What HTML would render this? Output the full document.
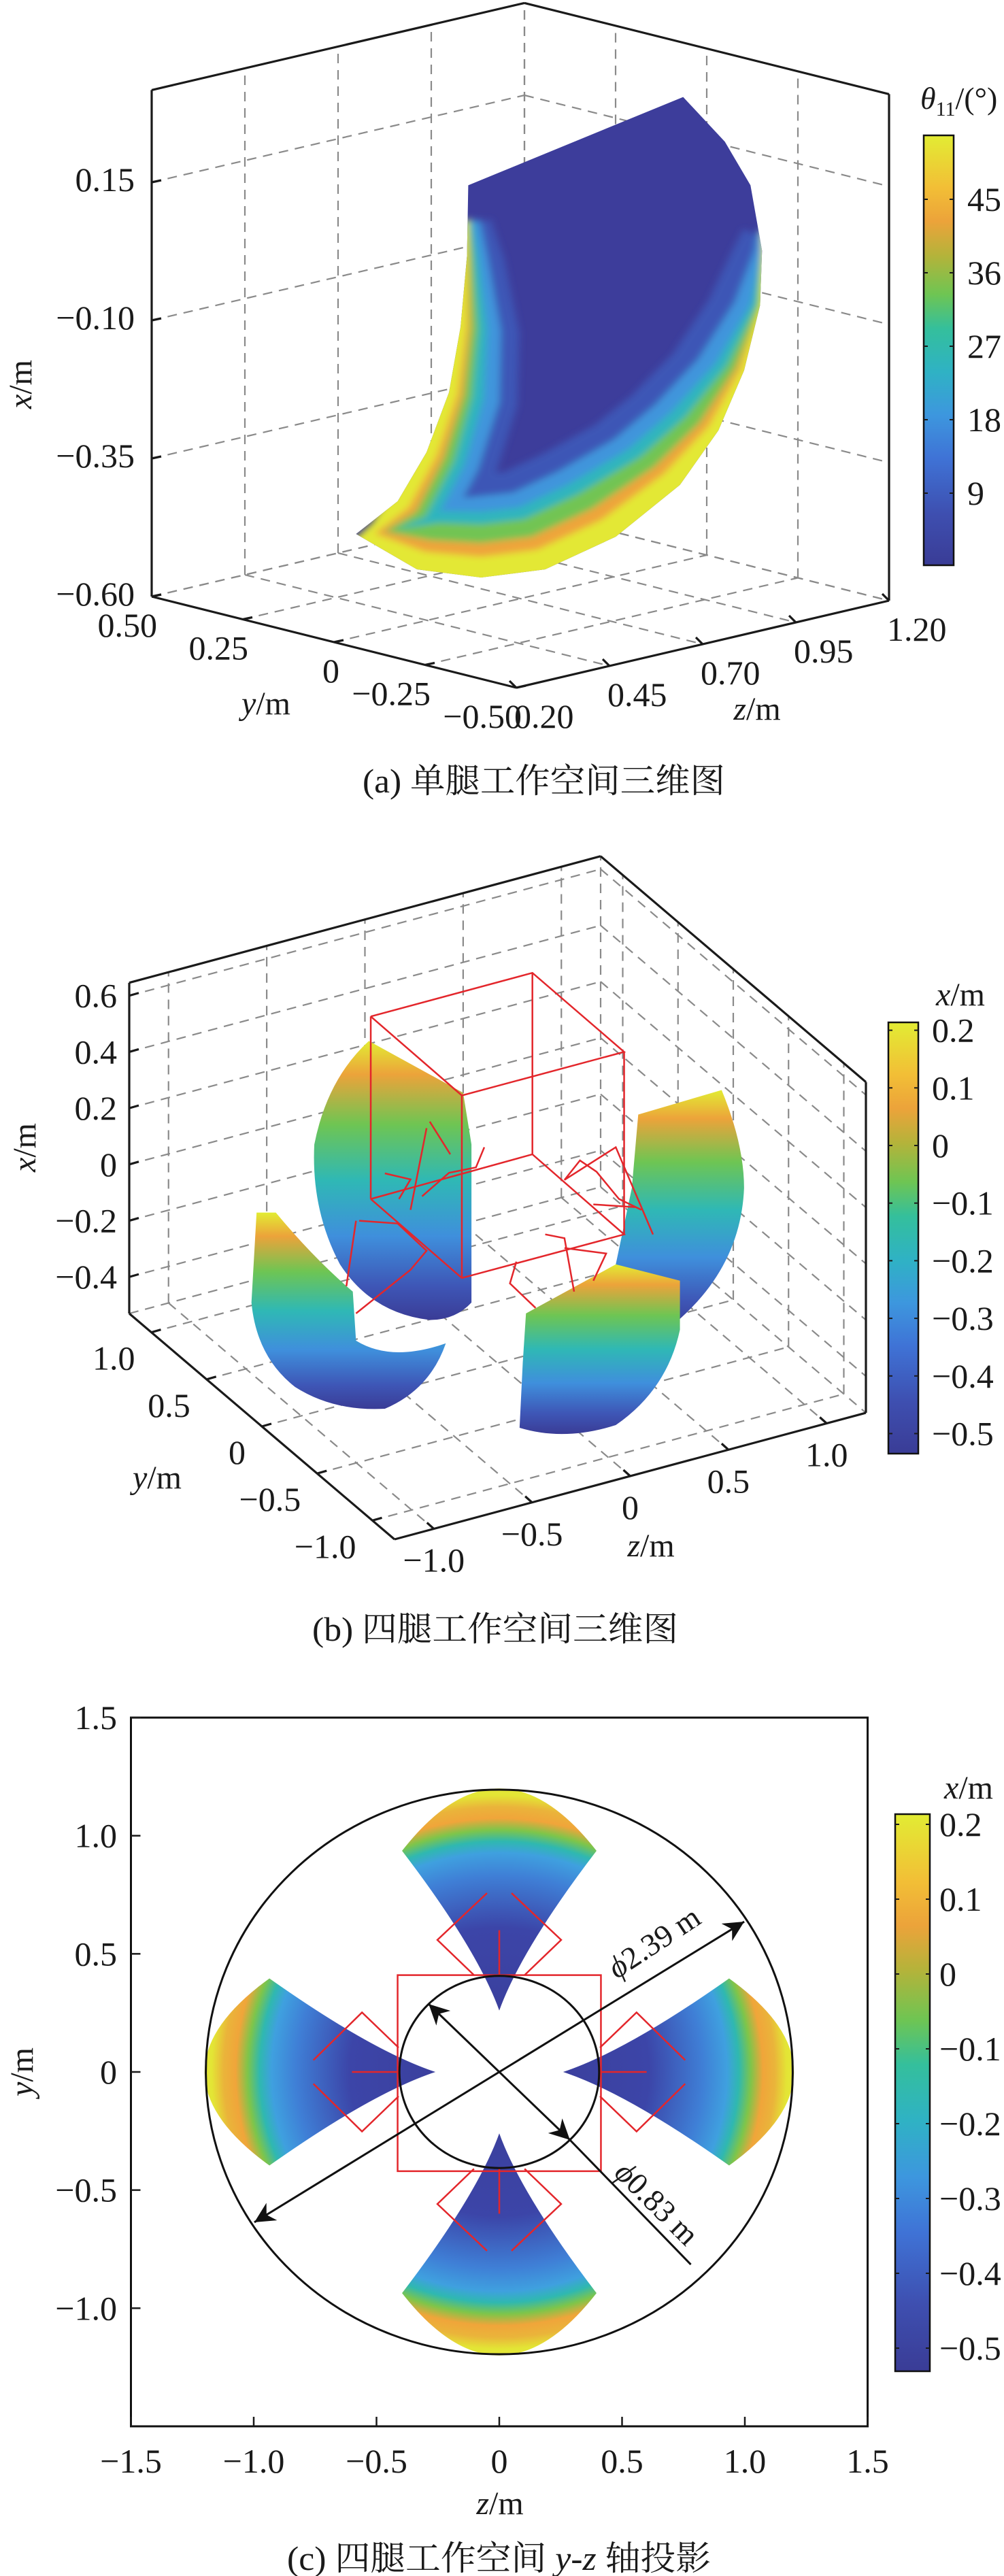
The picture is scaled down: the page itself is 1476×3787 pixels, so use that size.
<!DOCTYPE html>
<html><head><meta charset="utf-8"><style>
html,body{margin:0;padding:0;background:#fff}
svg{display:block}
text{font-family:"Liberation Serif","Noto Serif CJK SC",serif;fill:#1a1a1a}
</style></head><body>
<svg id="fig" xmlns="http://www.w3.org/2000/svg" width="1476" height="3787" viewBox="0 0 1476 3787">
<defs>
  <linearGradient id="parula" x1="0" y1="1" x2="0" y2="0">
    <stop offset="0" stop-color="#3a3c96"/><stop offset="0.12" stop-color="#3e4fb0"/>
    <stop offset="0.25" stop-color="#3f73d6"/><stop offset="0.35" stop-color="#3d97de"/>
    <stop offset="0.45" stop-color="#2fb2c4"/><stop offset="0.55" stop-color="#34bf9c"/>
    <stop offset="0.63" stop-color="#6ec553"/><stop offset="0.72" stop-color="#b4b33a"/>
    <stop offset="0.8" stop-color="#eca33a"/><stop offset="0.88" stop-color="#f2bf36"/>
    <stop offset="1" stop-color="#e2ec33"/>
  </linearGradient>
  <linearGradient id="gradB" x1="0" y1="0" x2="0" y2="1">
    <stop offset="0" stop-color="#e2ec33"/><stop offset="0.12" stop-color="#eca33a"/>
    <stop offset="0.3" stop-color="#6ec553"/><stop offset="0.5" stop-color="#2fb8b5"/>
    <stop offset="0.7" stop-color="#3f8fdc"/><stop offset="0.88" stop-color="#3e56b6"/>
    <stop offset="1" stop-color="#3a3c96"/>
  </linearGradient>
  <radialGradient id="gradC" gradientUnits="userSpaceOnUse" cx="0" cy="0" r="1.22">
    <stop offset="0" stop-color="#3a3c96"/><stop offset="0.5" stop-color="#3c45a8"/>
    <stop offset="0.68" stop-color="#3f7fd6"/><stop offset="0.76" stop-color="#3fa0df"/>
    <stop offset="0.8" stop-color="#2fb8b0"/><stop offset="0.84" stop-color="#7ec54a"/>
    <stop offset="0.88" stop-color="#f0a53a"/><stop offset="0.92" stop-color="#eab43a"/>
    <stop offset="0.96" stop-color="#e3e535"/><stop offset="1" stop-color="#e4e93a"/>
  </radialGradient>
  <clipPath id="clipA"><path d="M730,340 L1065,178 L1130,260 L1170,340 L1188,460 L1185,560 L1160,680 L1120,790 L1060,890 L960,985 L850,1045 L750,1060 L650,1045 L555,980 L620,920 L665,830 L700,720 L718,600 L728,470 Z"/></clipPath>
  <filter id="soft" x="-10%" y="-10%" width="120%" height="120%"><feGaussianBlur stdDeviation="6"/></filter>
  <marker id="arrow" viewBox="0 0 10 10" refX="10" refY="5" markerWidth="30" markerHeight="30" markerUnits="userSpaceOnUse" orient="auto-start-reverse">
    <path d="M0,0 L10,5 L0,10 L3,5 Z" fill="#111"/>
  </marker>
</defs>

<!-- ============ Panel (a) ============ -->
<g id="panelA">
  <g id="gridA"></g>
  <g transform="scale(0.943,0.801)">
    <path fill="#3d3d9b" d="M730,340 L1065,178 L1130,260 L1170,340 L1188,460 L1185,560 L1160,680 L1120,790 L1060,890 L960,985 L850,1045 L750,1060 L650,1045 L555,980 L620,920 L665,830 L700,720 L718,600 L728,470 Z"/>
    <g clip-path="url(#clipA)">
      <g id="bandsA" filter="url(#soft)"></g>
    </g>
  </g>
  <g id="frameA"></g>
  <g id="cbA">
    <rect x="1358" y="199" width="44" height="632" fill="url(#parula)" stroke="#111" stroke-width="2.5"/>
  </g>
  <text x="1353" y="160" font-size="46"><tspan font-style="italic">θ</tspan><tspan font-size="30" dy="10">11</tspan><tspan dy="-10">/(°)</tspan></text>
  <text transform="translate(46,565) rotate(-90)" text-anchor="middle" font-size="48"><tspan font-style="italic">x</tspan>/m</text>
  <text x="391" y="1050" text-anchor="middle" font-size="48"><tspan font-style="italic">y</tspan>/m</text>
  <text x="1113" y="1058" text-anchor="middle" font-size="48"><tspan font-style="italic">z</tspan>/m</text>
  <text x="533" y="1165" font-size="50" textLength="533" lengthAdjust="spacingAndGlyphs">(a) 单腿工作空间三维图</text>
</g>

<!-- ============ Panel (b) ============ -->
<g id="panelB">
  <g id="gridB"></g>
  <g transform="translate(0,1250) scale(0.943,0.801)">
    <path fill="url(#gradB)" d="M995,485 L1125,440 Q1160,540 1160,620 Q1155,760 1060,860 L990,880 L960,760 L985,620 Z"/>
    <path fill="url(#gradB)" d="M575,350 L722,445 L735,540 L735,830 Q710,862 670,862 Q580,850 530,760 Q485,660 490,540 Q510,420 575,350 Z"/>
    <path fill="url(#gradB)" d="M400,665 L430,665 Q490,750 550,810 L555,900 Q610,940 695,905 Q670,990 600,1025 Q520,1030 460,985 Q400,930 392,830 Z"/>
    <path fill="url(#gradB)" d="M820,850 L960,760 L1060,790 L1060,880 Q1040,990 960,1055 Q880,1085 810,1060 L815,940 Z"/>
    <g id="redB" fill="none" stroke="#e3262b" stroke-width="2.5"></g>
  </g>
  <g id="frameB"></g>
  <g id="cbB">
    <rect x="1306" y="1503" width="44" height="634" fill="url(#parula)" stroke="#111" stroke-width="2.5"/>
  </g>
  <text x="1412" y="1478" text-anchor="middle" font-size="48"><tspan font-style="italic">x</tspan>/m</text>
  <text transform="translate(52,1687) rotate(-90)" text-anchor="middle" font-size="48"><tspan font-style="italic">x</tspan>/m</text>
  <text x="231" y="2188" text-anchor="middle" font-size="48"><tspan font-style="italic">y</tspan>/m</text>
  <text x="957" y="2288" text-anchor="middle" font-size="48"><tspan font-style="italic">z</tspan>/m</text>
  <text x="459" y="2412" font-size="50" textLength="538" lengthAdjust="spacingAndGlyphs">(b) 四腿工作空间三维图</text>
</g>

<!-- ============ Panel (c) ============ -->
<g id="panelC">
  <g id="dataC"></g>
  <g id="axesC"></g>
  <text transform="translate(970,2868) rotate(-33.5)" text-anchor="middle" font-size="46"><tspan font-style="italic">ϕ</tspan>2.39 m</text>
  <text transform="translate(955,3250) rotate(45)" text-anchor="middle" font-size="46"><tspan font-style="italic">ϕ</tspan>0.83 m</text>
  <g id="cbC">
    <rect x="1316" y="2667" width="51" height="819" fill="url(#parula)" stroke="#111" stroke-width="2.5"/>
  </g>
  <text x="1424" y="2644" text-anchor="middle" font-size="48"><tspan font-style="italic">x</tspan>/m</text>
  <text transform="translate(48,3046) rotate(-90)" text-anchor="middle" font-size="48"><tspan font-style="italic">y</tspan>/m</text>
  <text x="735" y="3696" text-anchor="middle" font-size="48"><tspan font-style="italic">z</tspan>/m</text>
  <text x="422" y="3778" font-size="50" textLength="623" lengthAdjust="spacingAndGlyphs">(c) 四腿工作空间 <tspan font-style="italic">y</tspan>-<tspan font-style="italic">z</tspan> 轴投影</text>
</g>
</svg>
<script>
const NS = "http://www.w3.org/2000/svg";
function mk(tag, attrs, parent){const e=document.createElementNS(NS,tag);for(const k in attrs)e.setAttribute(k,attrs[k]);parent.appendChild(e);return e;}

/* ---------- data arrays ---------- */
const aXTicks = [-0.60, -0.35, -0.10, 0.15];
const aXLabels = ["−0.60","−0.35","−0.10","0.15"];
const aYTicks = [0.50, 0.25, 0, -0.25, -0.50];
const aYLabels = ["0.50","0.25","0","−0.25","−0.50"];
const aZTicks = [0.20, 0.45, 0.70, 0.95, 1.20];
const aZLabels = ["0.20","0.45","0.70","0.95","1.20"];
const aCbTicks = [9, 18, 27, 36, 45];
const aCbLabels = ["9","18","27","36","45"];

const bXTicks = [-0.4, -0.2, 0, 0.2, 0.4, 0.6];
const bXLabels = ["−0.4","−0.2","0","0.2","0.4","0.6"];
const bYTicks = [1.0, 0.5, 0, -0.5, -1.0];
const bYLabels = ["1.0","0.5","0","−0.5","−1.0"];
const bZTicks = [-1.0, -0.5, 0, 0.5, 1.0];
const bZLabels = ["−1.0","−0.5","0","0.5","1.0"];
const bCbTicks = [0.2, 0.1, 0, -0.1, -0.2, -0.3, -0.4, -0.5];
const bCbLabels = ["0.2","0.1","0","−0.1","−0.2","−0.3","−0.4","−0.5"];

const cZTicks = [-1.5, -1.0, -0.5, 0, 0.5, 1.0, 1.5];
const cZLabels = ["−1.5","−1.0","−0.5","0","0.5","1.0","1.5"];
const cYTicks = [1.5, 1.0, 0.5, 0, -0.5, -1.0];
const cYLabels = ["1.5","1.0","0.5","0","−0.5","−1.0"];
const cCbTicks = [0.2, 0.1, 0, -0.1, -0.2, -0.3, -0.4, -0.5];
const cCbLabels = ["0.2","0.1","0","−0.1","−0.2","−0.3","−0.4","−0.5"];
const cOuterDiameter = [2.39];
const cInnerDiameter = [0.83];
const cLegAngles = [90, 180, 0, 270];

/* ---------- Panel (a) rim colour bands (surface shading) ---------- */
const rimPts = [[1188,420],[1188,460],[1185,560],[1160,680],[1120,790],[1060,890],[960,985],[850,1045],[750,1060],[650,1045],[560,985],[620,920],[665,830],[700,720],[718,600],[728,470],[730,400]];
const rimW = [[0,0,0,0,5,25],[0,0,0,0,10,40],[0,0,5,12,35,70],[5,12,25,40,65,100],[15,28,50,70,95,130],[28,45,70,90,115,150],[33,55,85,105,130,165],[33,55,85,105,130,165],[33,55,85,105,130,165],[30,50,80,100,120,150],[22,35,50,65,85,105],[18,30,45,60,80,105],[15,25,40,55,75,100],[12,20,32,48,70,95],[8,14,24,36,55,80],[0,3,8,15,28,50],[0,0,0,5,15,30]];
const bandColors = ["#e3e836","#eea43a","#72c452","#2fb5bd","#3f95dc","#3e56b6"];
const bandsA=document.getElementById('bandsA');
for(let lvl=5; lvl>=0; lvl--){
  const inner=[];
  rimPts.forEach((p,i)=>{
    const a=rimPts[Math.max(0,i-1)], b=rimPts[Math.min(rimPts.length-1,i+1)];
    let tx=b[0]-a[0], ty=b[1]-a[1]; const L=Math.hypot(tx,ty)||1; tx/=L; ty/=L;
    const w=rimW[i][lvl]*1.15;
    inner.push([p[0]-ty*w, p[1]+tx*w]);
  });
  const outer=rimPts.map(p=>[p[0]+(p[0]>900?40:-40),p[1]+40]);
  const poly=outer.concat(inner.slice().reverse());
  const bp=mk('polygon',{points:poly.map(q=>q.join(',')).join(' '),fill:bandColors[lvl]},bandsA);
  
  
}

/* ---------- Panel (a) ---------- */
const aXmin=-0.6, aXmax=0.317;
function PA(x,y,z){return [223+(z-0.2)*548+(0.5-y)*536, 877-(z-0.2)*128+(0.5-y)*134-(x-aXmin)*812];}
const gA=document.getElementById('gridA'), fA=document.getElementById('frameA');
function seg(parent,p,q,dashed,name,w){
  const l=mk('line',{x1:p[0],y1:p[1],x2:q[0],y2:q[1],stroke:dashed?'#8a8a8a':'#1a1a1a','stroke-width':w||(dashed?2.2:3.2),'stroke-dasharray':dashed?'14 10':'none'},parent);
  
  
  return l;
}
aXTicks.forEach(x=>{ seg(gA,PA(x,0.5,0.2),PA(x,0.5,1.2),true,'grid-a-left-wall'); seg(gA,PA(x,0.5,1.2),PA(x,-0.5,1.2),true,'grid-a-right-wall'); });
aZTicks.forEach(z=>{ seg(gA,PA(aXmin,0.5,z),PA(aXmax,0.5,z),true,'grid-a-left-wall-vertical'); seg(gA,PA(aXmin,0.5,z),PA(aXmin,-0.5,z),true,'grid-a-floor'); });
aYTicks.forEach(y=>{ seg(gA,PA(aXmin,y,1.2),PA(aXmax,y,1.2),true,'grid-a-right-wall-vertical'); seg(gA,PA(aXmin,y,0.2),PA(aXmin,y,1.2),true,'grid-a-floor'); });
seg(fA,PA(aXmax,0.5,0.2),PA(aXmax,0.5,1.2),false,'frame-a-top');
seg(fA,PA(aXmax,0.5,1.2),PA(aXmax,-0.5,1.2),false,'frame-a-top');
seg(fA,PA(aXmin,0.5,0.2),PA(aXmax,0.5,0.2),false,'frame-a-left');
seg(fA,PA(aXmin,-0.5,1.2),PA(aXmax,-0.5,1.2),false,'frame-a-right');
seg(fA,PA(aXmin,0.5,0.2),PA(aXmin,-0.5,0.2),false,'frame-a-y-axis');
seg(fA,PA(aXmin,-0.5,0.2),PA(aXmin,-0.5,1.2),false,'frame-a-z-axis');
aXTicks.forEach((x,i)=>{const p=PA(x,0.5,0.2);
  seg(fA,p,[p[0]+14,p[1]-3],false,'x-tick-a');
  const t=mk('text',{x:p[0]-25,y:p[1]-4,'text-anchor':'end','dominant-baseline':'central','font-size':50},fA);t.textContent=aXLabels[i];
  
  });
aYTicks.forEach((y,i)=>{const p=PA(aXmin,y,0.2);
  seg(fA,p,[p[0]+14,p[1]-3],false,'y-tick-a');
  const t=mk('text',{x:p[0]+8,y:p[1]+42,'text-anchor':'end','dominant-baseline':'central','font-size':50},fA);t.textContent=aYLabels[i];
  
  });
aZTicks.forEach((z,i)=>{const p=PA(aXmin,-0.5,z);
  seg(fA,p,[p[0]-10,p[1]-10],false,'z-tick-a');
  const t=mk('text',{x:p[0]-3,y:p[1]+42,'text-anchor':'start','dominant-baseline':'central','font-size':50},fA);t.textContent=aZLabels[i];
  
  });
const cbA=document.getElementById('cbA');
aCbTicks.forEach((v,i)=>{const y=833-v*12;
  seg(cbA,[1358,y],[1364,y],false,'colorbar-a-tick',2); seg(cbA,[1396,y],[1402,y],false,'colorbar-a-tick',2);
  const t=mk('text',{x:1422,y:y,'dominant-baseline':'central','font-size':50},cbA);t.textContent=aCbLabels[i];
  
  });

/* ---------- Panel (b) ---------- */
const bXmin=-0.53, bXmax=0.646;
function PB(x,y,z){return [580+(z+1.2)/2.4*693-(y+1.2)/2.4*390, 2263-(z+1.2)/2.4*186-(y+1.2)/2.4*332-(x-bXmin)*413.5];}
const gB=document.getElementById('gridB'), fB=document.getElementById('frameB');
bXTicks.forEach(x=>{ seg(gB,PB(x,1.2,-1.2),PB(x,1.2,1.2),true,'grid-b-left-wall'); seg(gB,PB(x,1.2,1.2),PB(x,-1.2,1.2),true,'grid-b-right-wall'); });
bZTicks.forEach(z=>{ seg(gB,PB(bXmin,1.2,z),PB(bXmax,1.2,z),true,'grid-b-left-wall-vertical'); seg(gB,PB(bXmin,1.2,z),PB(bXmin,-1.2,z),true,'grid-b-floor'); });
bYTicks.forEach(y=>{ seg(gB,PB(bXmin,y,1.2),PB(bXmax,y,1.2),true,'grid-b-right-wall-vertical'); seg(gB,PB(bXmin,y,-1.2),PB(bXmin,y,1.2),true,'grid-b-floor'); });
seg(gB,PB(bXmin,1.2,1.2),PB(bXmax,1.2,1.2),true,'grid-b-back-edge');
seg(gB,PB(bXmin,1.2,-1.2),PB(bXmin,1.2,1.2),true,'grid-b-floor-edge');
seg(gB,PB(bXmin,1.2,1.2),PB(bXmin,-1.2,1.2),true,'grid-b-floor-edge');
seg(fB,PB(bXmax,1.2,-1.2),PB(bXmax,1.2,1.2),false,'frame-b-top');
seg(fB,PB(bXmax,1.2,1.2),PB(bXmax,-1.2,1.2),false,'frame-b-top');
seg(fB,PB(bXmin,1.2,-1.2),PB(bXmax,1.2,-1.2),false,'frame-b-left');
seg(fB,PB(bXmin,-1.2,1.2),PB(bXmax,-1.2,1.2),false,'frame-b-right');
seg(fB,PB(bXmin,1.2,-1.2),PB(bXmin,-1.2,-1.2),false,'frame-b-y-axis');
seg(fB,PB(bXmin,-1.2,-1.2),PB(bXmin,-1.2,1.2),false,'frame-b-z-axis');
bXTicks.forEach((x,i)=>{const p=PB(x,1.2,-1.2);
  seg(fB,p,[p[0]+14,p[1]-4],false,'x-tick-b');
  const t=mk('text',{x:p[0]-18,y:p[1],'text-anchor':'end','dominant-baseline':'central','font-size':50},fB);t.textContent=bXLabels[i];
  
  });
bYTicks.forEach((y,i)=>{const p=PB(bXmin,y,-1.2);
  seg(fB,p,[p[0]+14,p[1]-4],false,'y-tick-b');
  const t=mk('text',{x:p[0]-24,y:p[1]+38,'text-anchor':'end','dominant-baseline':'central','font-size':50},fB);t.textContent=bYLabels[i];
  
  });
bZTicks.forEach((z,i)=>{const p=PB(bXmin,-1.2,z);
  seg(fB,p,[p[0]-10,p[1]-9],false,'z-tick-b');
  const t=mk('text',{x:p[0],y:p[1]+46,'text-anchor':'middle','dominant-baseline':'central','font-size':50},fB);t.textContent=bZLabels[i];
  
  });
const cbB=document.getElementById('cbB');
bCbTicks.forEach((v,i)=>{const y=1684-v*847;
  seg(cbB,[1306,y],[1312,y],false,'colorbar-b-tick',2); seg(cbB,[1344,y],[1350,y],false,'colorbar-b-tick',2);
  const t=mk('text',{x:1370,y:y,'dominant-baseline':'central','font-size':50},cbB);t.textContent=bCbLabels[i];
  
  });
const redB=document.getElementById('redB');
const redLines=[
 [[578,305],[830,225],[973,370],[720,450],[578,305]],
 [[578,640],[830,558],[973,705],[720,785],[578,640]],
 [[578,305],[578,640]],[[830,225],[830,558]],[[973,370],[973,705]],[[720,450],[720,785]],
 [[670,498],[702,558]],[[755,545],[742,582],[700,592],[658,635]],
 [[600,593],[640,604],[622,640]],[[665,510],[640,660]],
 [[560,680],[620,685],[665,735],[640,770],[555,850]],[[555,680],[540,800]],
 [[850,705],[880,712],[895,810]],[[880,730],[945,740],[925,790]],
 [[805,755],[795,795],[835,840]],[[905,568],[880,605],[960,545],[1018,705]],
 [[905,570],[930,590],[965,640],[1000,660]],[[925,650],[990,655]]];
redLines.forEach(pts=>{const p=mk('polyline',{points:pts.map(q=>q.join(',')).join(' '),'vector-effect':'non-scaling-stroke'},redB);
  
  });

/* ---------- Panel (c) ---------- */
const cx0=734, cy0=3046, ux=361, uy=347.3;
const SX=z=>cx0+z*ux, SY=y=>cy0-y*uy;
const dC=document.getElementById('dataC'), aC=document.getElementById('axesC');
const gData=mk('g',{transform:`translate(${cx0},${cy0}) scale(${ux},${-uy})`},dC);


const blobD="M0,0.26 Q-0.09,0.52 -0.396,0.936 Q0,1.464 0.396,0.936 Q0.09,0.52 0,0.26 Z";
cLegAngles.forEach(a=>{const p=mk('path',{d:blobD,fill:'url(#gradC)',transform:`rotate(${a-90})`},gData);
  
  });
cLegAngles.forEach(a=>{const g=mk('g',{transform:`rotate(${a-90})`,fill:'none',stroke:'#e3262b','stroke-width':2.5},gData);
  
  
  [[[-0.05,0.757],[-0.252,0.559],[-0.103,0.41]],[[0.05,0.757],[0.252,0.559],[0.103,0.41]],[[0,0.6],[0,0.41]]].forEach(pts=>{
    const l=mk('polyline',{points:pts.map(q=>q.join(',')).join(' '),'vector-effect':'non-scaling-stroke'},g);
    
    });});
const body=mk('rect',{x:-0.414,y:-0.42,width:0.828,height:0.83,fill:'none',stroke:'#e3262b','stroke-width':2.5,'vector-effect':'non-scaling-stroke'},gData);


const Ro=cOuterDiameter[0]/2, Ri=cInnerDiameter[0]/2*0.98;
const oc=mk('ellipse',{cx:SX(0),cy:SY(0),rx:Ro*ux,ry:Ro*uy,fill:'none',stroke:'#111','stroke-width':3},dC);


const ic=mk('ellipse',{cx:SX(0),cy:SY(0),rx:Ri*ux,ry:Ri*uy,fill:'none',stroke:'#111','stroke-width':3},dC);


const a1=Math.atan2(0.634,0.994);
const la=mk('line',{x1:SX(-Ro*Math.cos(a1)*0.99),y1:SY(-Ro*Math.sin(a1)*0.99),x2:SX(Ro*Math.cos(a1)*0.99),y2:SY(Ro*Math.sin(a1)*0.99),stroke:'#111','stroke-width':3,'marker-start':'url(#arrow)','marker-end':'url(#arrow)'},dC);


const a2=Math.PI/4;
const sa=mk('line',{x1:SX(-Ri*Math.cos(a2)),y1:SY(Ri*Math.sin(a2)),x2:SX(Ri*Math.cos(a2)),y2:SY(-Ri*Math.sin(a2)),stroke:'#111','stroke-width':3,'marker-start':'url(#arrow)','marker-end':'url(#arrow)'},dC);


const ext=mk('line',{x1:SX(Ri*Math.cos(a2)),y1:SY(-Ri*Math.sin(a2)),x2:SX(0.78),y2:SY(-0.815),stroke:'#111','stroke-width':3},dC);


const box=mk('rect',{x:SX(-1.5),y:SY(1.5),width:3*ux,height:3*uy,fill:'none',stroke:'#111','stroke-width':3},aC);


cZTicks.forEach((z,i)=>{const x=SX(z);
  seg(aC,[x,SY(-1.5)],[x,SY(-1.5)-14],false,'x-tick-c',2.5);
  const t=mk('text',{x:x,y:3618,'text-anchor':'middle','dominant-baseline':'central','font-size':50},aC);t.textContent=cZLabels[i];
  
  });
cYTicks.forEach((y,i)=>{const yy=SY(y);
  seg(aC,[SX(-1.5),yy],[SX(-1.5)+14,yy],false,'y-tick-c',2.5);
  const t=mk('text',{x:172,y:yy,'text-anchor':'end','dominant-baseline':'central','font-size':50},aC);t.textContent=cYLabels[i];
  
  });
const cbC=document.getElementById('cbC');
cCbTicks.forEach((v,i)=>{const y=2902-v*1100;
  seg(cbC,[1316,y],[1322,y],false,'colorbar-c-tick',2); seg(cbC,[1361,y],[1367,y],false,'colorbar-c-tick',2);
  const t=mk('text',{x:1381,y:y,'dominant-baseline':'central','font-size':50},cbC);t.textContent=cCbLabels[i];
  
  });
</script>
</body></html>
